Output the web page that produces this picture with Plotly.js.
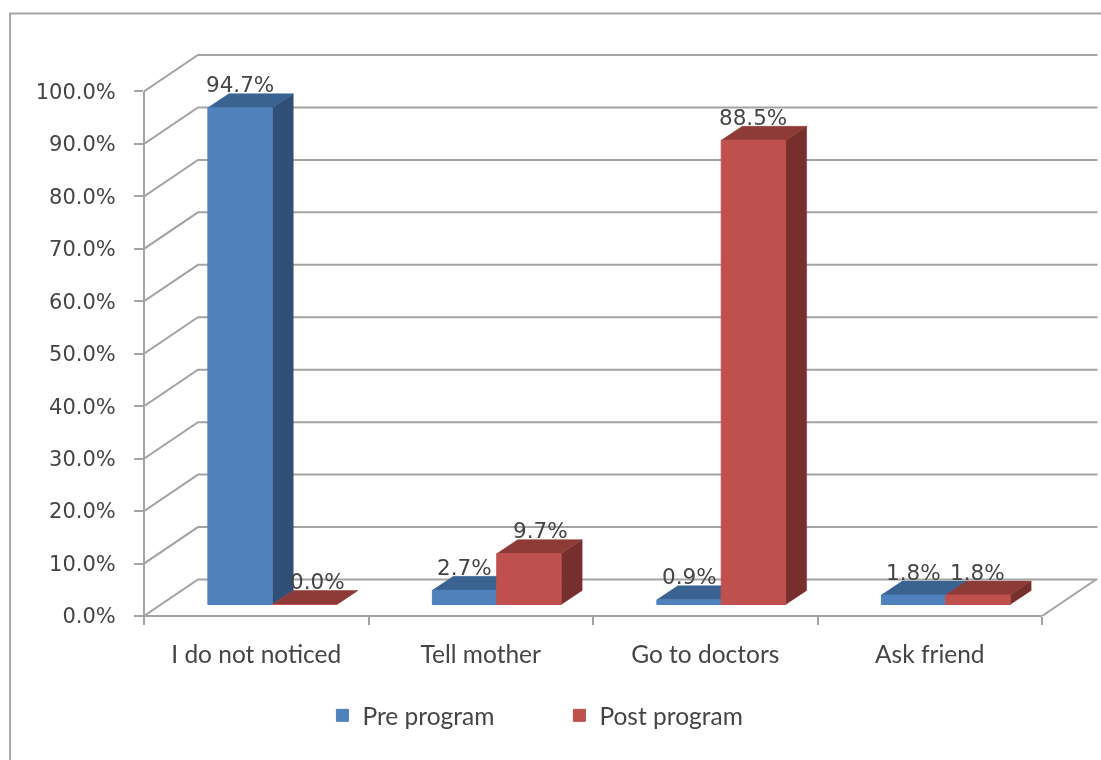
<!DOCTYPE html>
<html>
<head>
<meta charset="utf-8">
<script src="https://cdn.plot.ly/plotly-3.0.0.min.js"></script>
<style>
html,body{margin:0;padding:0;background:#fff;overflow:hidden}
#chart{width:1101px;height:760px;filter:blur(0.6px)}
</style>
</head>
<body>
<div id="chart"></div>
<script>
const categories = ["I do not noticed", "Tell mother", "Go to doctors", "Ask friend"];
const prePct = [94.7, 2.7, 0.9, 1.8];
const postPct = [0.0, 9.7, 88.5, 1.8];
const yTicks = [0, 10, 20, 30, 40, 50, 60, 70, 80, 90, 100];
const seriesNames = ["Pre program", "Post program"];

// chart geometry in pixels
const W = 1101, H = 760;
const L = 143.5, R = 1042, T = 91.5, B = 616.5, plotTop = 40;
const pxX = (R - L) / categories.length, pxY = (B - T) / 100;
const wallDx = 54 / pxX, wallDy = 36.5 / pxY;      // back wall depth
const planeDx = 16 / pxX, planeDy = 11.5 / pxY;    // bar plane depth
const barW = 64.4 / pxX;
const faceDx = 21 / pxX, faceDy = 14 / pxY;        // bar depth
const xMin = -0.5, xMax = categories.length - 0.5;
const xEnd = xMin + (W - L) / pxX, yEnd = (B - plotTop) / pxY;

const colors = {
  pre:  {front:"#4F81BD", side:"#2F4F76", top:"#3A6391"},
  post: {front:"#C0504D", side:"#772F2D", top:"#8E3B38"}
};
const grid = "#A4A4A4", ink = "#454545";
const fontNum = "'DejaVu Sans', sans-serif", fontCat = "Lato, sans-serif";

// walls
const gx = [], gy = [];
yTicks.forEach(t => {
  gx.push(xMin, xMin + wallDx, xMax + wallDx + 1.5 / pxX, null);
  gy.push(t, t + wallDy, t + wallDy, null);
});
gx.push(xMax, xMax + wallDx);
gy.push(0, wallDy);

const wallTrace = {
  type:"scatter", mode:"lines", x:gx, y:gy, xaxis:"x", yaxis:"y",
  line:{color:grid, width:2}, showlegend:false, hoverinfo:"skip"
};

function poly(px, py, color){
  return {type:"scatter", mode:"lines", x:px, y:py, xaxis:"x", yaxis:"y", fill:"toself",
    fillcolor:color, line:{color:color, width:0.5},
    showlegend:false, hoverinfo:"skip"};
}
function faces(values, start, c){
  const out = [];
  values.forEach((v, i) => {
    const x0 = i + start, x1 = x0 + barW, y0 = planeDy, y1 = planeDy + v;
    out.push(poly([x1, x1 + faceDx, x1 + faceDx, x1, x1],
                  [y0, y0 + faceDy, y1 + faceDy, y1, y0], c.side));
    out.push(poly([x0, x0 + faceDx, x1 + faceDx, x1, x0],
                  [y1, y1 + faceDy, y1 + faceDy, y1, y1], c.top));
  });
  return out;
}
function front(name, values, start, color){
  return {type:"bar", name:name, x:categories, y:values, base:planeDy, width:barW, offset:start,
    xaxis:"x2", yaxis:"y", marker:{color:color, line:{width:1, color:color}}, hoverinfo:"x+y"};
}
const preStart = planeDx - barW, postStart = planeDx;

const traces = [wallTrace]
  .concat(faces(prePct, preStart, colors.pre))
  .concat(faces(postPct, postStart, colors.post))
  .concat([front(seriesNames[0], prePct, preStart, colors.pre.front),
           front(seriesNames[1], postPct, postStart, colors.post.front)]);

function labels(values, start, nudge){
  return values.map((v, i) => ({
    xref:"x", yref:"y", x:i + start + barW / 2, y:planeDy + v + faceDy,
    xshift:nudge[i], yshift:9, text:v.toFixed(1) + "%", showarrow:false,
    xanchor:"center", yanchor:"middle",
    font:{family:fontNum, size:21.5, color:ink}
  }));
}
const px = x => (x - L) / (W - L), py = y => (B - y) / (B - plotTop);
const frame = {type:"path", xref:"paper", yref:"paper", layer:"below",
  path:`M ${px(9.5)} ${py(H + 5)} L ${px(9.5)} ${py(13.5)} L ${px(W + 5)} ${py(13.5)}`,
  line:{color:"#A6A6A6", width:2}};
const axisLines = {type:"path", xref:"paper", yref:"paper", layer:"below",
  path:`M ${px(L)} ${py(T)} L ${px(L)} ${py(B)} L ${px(R)} ${py(B)}`,
  line:{color:grid, width:2}};

const layout = {
  width:W, height:H, autosize:false, showlegend:true,
  paper_bgcolor:"#fff", plot_bgcolor:"rgba(0,0,0,0)",
  margin:{l:L, r:0, t:plotTop, b:H - B, pad:0},
  barmode:"overlay",
  xaxis:{visible:false, type:"linear", range:[xMin, xEnd], fixedrange:true},
  xaxis2:{type:"category", overlaying:"x", anchor:"y", side:"bottom",
    categoryorder:"array", categoryarray:categories, range:[xMin, xEnd],
    tickson:"boundaries", ticks:"outside", ticklen:8, tickwidth:2, tickcolor:grid,
    showline:false, showgrid:false, zeroline:false,
    ticklabelstandoff:21, tickfont:{family:fontCat, size:24.5, color:ink}, fixedrange:true},
  yaxis:{range:[0, yEnd], tickmode:"array", tickvals:yTicks,
    ticktext:yTicks.map(t => t.toFixed(1) + "%"), anchor:"x", side:"left",
    ticks:"outside", ticklen:9, tickwidth:2, tickcolor:grid,
    showline:false, showgrid:false, zeroline:false,
    ticklabelstandoff:14, tickfont:{family:fontNum, size:21, color:ink}, fixedrange:true},
  legend:{orientation:"h", x:px(322), xanchor:"left", y:py(716), yanchor:"middle",
    entrywidth:192, entrywidthmode:"pixels", itemwidth:30, traceorder:"normal",
    font:{family:fontCat, size:24.5, color:ink}, bgcolor:"rgba(0,0,0,0)"},
  shapes:[frame, axisLines],
  annotations:labels(prePct, preStart, [0,0,0,0]).concat(labels(postPct, postStart, [13,12,0,0]))
};

Plotly.newPlot("chart", traces, layout, {displayModeBar:false, staticPlot:true});
</script>
</body>
</html>
